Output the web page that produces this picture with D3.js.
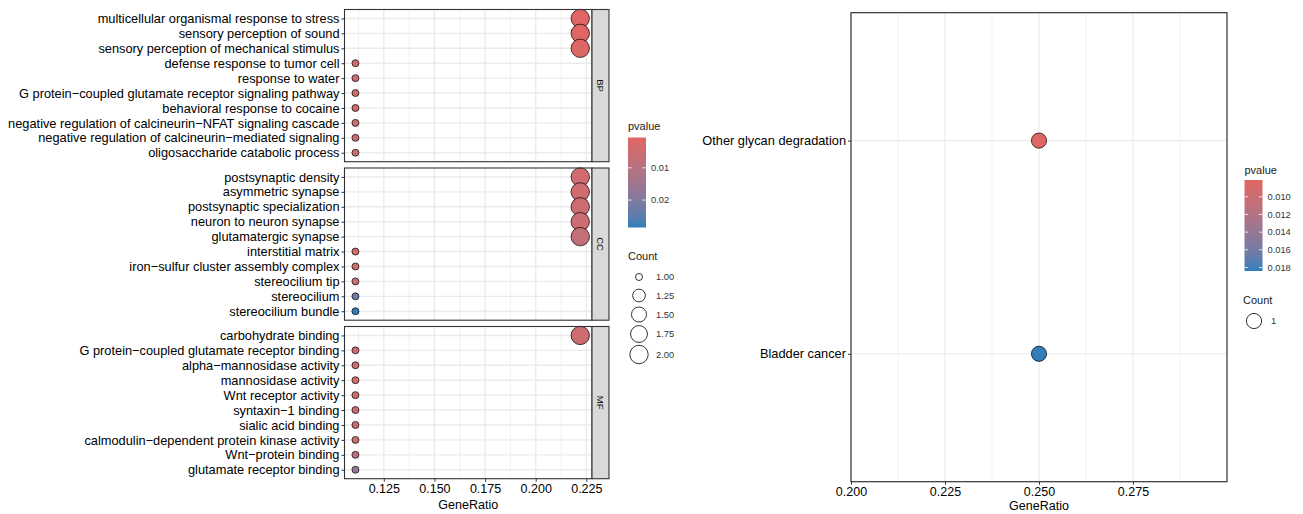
<!DOCTYPE html>
<html>
<head>
<meta charset="utf-8">
<script src="https://cdn.jsdelivr.net/npm/d3@7"></script>
<style>
  body { margin: 0; background: #fff; }
  svg { display: block; font-family: "Liberation Sans", Arial, sans-serif; }
</style>
</head>
<body>
<div id="viz"></div>
<script>
//Datos GO
const bpTerms = ['multicellular organismal response to stress', 'sensory perception of sound', 'sensory perception of mechanical stimulus',
    'defense response to tumor cell', 'response to water', 'G protein\u2212coupled glutamate receptor signaling pathway',
    'behavioral response to cocaine', 'negative regulation of calcineurin\u2212NFAT signaling cascade',
    'negative regulation of calcineurin\u2212mediated signaling', 'oligosaccharide catabolic process'];
const bpRatio = [0.222, 0.222, 0.222, 0.111, 0.111, 0.111, 0.111, 0.111, 0.111, 0.111];
const bpCount = [2, 2, 2, 1, 1, 1, 1, 1, 1, 1];
const bpPvalue = [0.0006, 0.0008, 0.0013, 0.0040, 0.0040, 0.0045, 0.0048, 0.0050, 0.0050, 0.0055];

const ccTerms = ['postsynaptic density', 'asymmetric synapse', 'postsynaptic specialization', 'neuron to neuron synapse',
    'glutamatergic synapse', 'interstitial matrix', 'iron\u2212sulfur cluster assembly complex', 'stereocilium tip',
    'stereocilium', 'stereocilium bundle'];
const ccRatio = [0.222, 0.222, 0.222, 0.222, 0.222, 0.111, 0.111, 0.111, 0.111, 0.111];
const ccCount = [2, 2, 2, 2, 2, 1, 1, 1, 1, 1];
const ccPvalue = [0.0045, 0.0048, 0.0052, 0.0055, 0.0075, 0.0040, 0.0042, 0.0055, 0.0225, 0.0285];

const mfTerms = ['carbohydrate binding', 'G protein\u2212coupled glutamate receptor binding', 'alpha\u2212mannosidase activity',
    'mannosidase activity', 'Wnt receptor activity', 'syntaxin\u22121 binding', 'sialic acid binding',
    'calmodulin\u2212dependent protein kinase activity', 'Wnt\u2212protein binding', 'glutamate receptor binding'];
const mfRatio = [0.222, 0.111, 0.111, 0.111, 0.111, 0.111, 0.111, 0.111, 0.111, 0.111];
const mfCount = [2, 1, 1, 1, 1, 1, 1, 1, 1, 1];
const mfPvalue = [0.0052, 0.0040, 0.0045, 0.0045, 0.0048, 0.0050, 0.0052, 0.0058, 0.0090, 0.0170];

const goTicks = [0.125, 0.150, 0.175, 0.200, 0.225];
const goPvalueTicks = [0.01, 0.02];
const goCountBreaks = [1.00, 1.25, 1.50, 1.75, 2.00];

//Datos KEGG
const keggTerms = ['Other glycan degradation', 'Bladder cancer'];
const keggRatio = [0.25, 0.25];
const keggCount = [1, 1];
const keggPvalue = [0.0081, 0.0184];
const keggTicks = [0.200, 0.225, 0.250, 0.275];
const keggPvalueTicks = [0.010, 0.012, 0.014, 0.016, 0.018];
const keggCountBreaks = [1];

//Colores fijos
const COLOR_LOW = '#e06663', COLOR_HIGH = '#327eba',
    COLOR_GRID = '#ebebeb', COLOR_BORDER = '#333333', COLOR_STRIP = '#d9d9d9';
const AXIS_FONT = '12.8px';

let svg = d3.select('#viz').append('svg')
    .attr('width', 1303).attr('height', 514);

let defs = svg.append('defs');

function makeGradient(id) {
    let g = defs.append('linearGradient').attr('id', id)
        .attr('x1', 0).attr('y1', 0).attr('x2', 0).attr('y2', 1);
    d3.range(0, 1.0001, 0.1).forEach(function(t) {
        g.append('stop').attr('offset', t)
            .attr('stop-color', d3.interpolateLab(COLOR_LOW, COLOR_HIGH)(t));
    });
}
makeGradient('gradGO');
makeGradient('gradKEGG');

function drawGrid(g, x, xTicks, y, terms, x0, x1, y0, y1, w) {
    // minor verticales
    let minor = [];
    let step = xTicks[1] - xTicks[0];
    for (let v = xTicks[0] - step / 2; v <= x.domain()[1]; v += step) {
        if (v >= x.domain()[0]) minor.push(v);
    }
    g.selectAll(null).data(minor).enter().append('line')
        .attr('x1', d => x(d)).attr('x2', d => x(d))
        .attr('y1', y0).attr('y2', y1)
        .attr('stroke', COLOR_GRID).attr('stroke-width', w * 0.55);
    g.selectAll(null).data(xTicks).enter().append('line')
        .attr('x1', d => x(d)).attr('x2', d => x(d))
        .attr('y1', y0).attr('y2', y1)
        .attr('stroke', COLOR_GRID).attr('stroke-width', w);
    g.selectAll(null).data(terms).enter().append('line')
        .attr('x1', x0).attr('x2', x1)
        .attr('y1', d => y(d)).attr('y2', d => y(d))
        .attr('stroke', COLOR_GRID).attr('stroke-width', w);
}

function yAxis(g, y, x0) {
    let ax = g.append('g').attr('transform', 'translate(' + x0 + ',0)')
        .call(d3.axisLeft(y).tickSize(3).tickPadding(2));
    ax.select('.domain').remove();
    ax.selectAll('line').attr('stroke', COLOR_BORDER);
    ax.selectAll('text').attr('fill', '#000').style('font-size', AXIS_FONT)
        .style('font-family', '"Liberation Sans", Arial, sans-serif');
}

function xAxis(g, x, ticks, y1, fmt) {
    let ax = g.append('g').attr('transform', 'translate(0,' + y1 + ')')
        .call(d3.axisBottom(x).tickValues(ticks).tickFormat(d3.format(fmt)).tickSize(3).tickPadding(2));
    ax.select('.domain').remove();
    ax.selectAll('line').attr('stroke', COLOR_BORDER);
    ax.selectAll('text').attr('fill', '#000').style('font-size', '12.5px')
        .style('font-family', '"Liberation Sans", Arial, sans-serif');
}

/////
// Panel GO
/////
const goPanels = [
    { name: 'BP', terms: bpTerms, ratio: bpRatio, count: bpCount, pvalue: bpPvalue },
    { name: 'CC', terms: ccTerms, ratio: ccRatio, count: ccCount, pvalue: ccPvalue },
    { name: 'MF', terms: mfTerms, ratio: mfRatio, count: mfCount, pvalue: mfPvalue }
];

let goLeft = 344.5, goRight = 592, stripW = 17, goTop = 9.5, panelH = 152.2, panelPitch = 158.5;
let allP = bpPvalue.concat(ccPvalue, mfPvalue);
let allC = bpCount.concat(ccCount, mfCount);
let goColor = d3.scaleLinear().domain(d3.extent(allP)).range([COLOR_LOW, COLOR_HIGH]).interpolate(d3.interpolateLab);
let goCountExt = d3.extent(allC);
let goSizeRaw = d3.scaleSqrt().domain([0, 1]).range([3.5, 9.2]);
let goSize = c => goSizeRaw((c - goCountExt[0]) / (goCountExt[1] - goCountExt[0]));

let goX = d3.scaleLinear().domain([0.1056, 0.2278]).range([goLeft, goRight]);

goPanels.forEach(function(p, i) {
    let y0 = goTop + i * panelPitch, y1 = y0 + panelH;
    let y = d3.scalePoint().domain(p.terms).range([y0, y1]).padding(0.6);
    let g = svg.append('g');
    g.append('rect').attr('x', goLeft).attr('y', y0).attr('width', goRight - goLeft).attr('height', panelH).attr('fill', '#fff');
    drawGrid(g, goX, goTicks, y, p.terms, goLeft, goRight, y0, y1, 1.4);
    let rows = p.terms.map((t, k) => ({ term: t, ratio: p.ratio[k], count: p.count[k], pvalue: p.pvalue[k] }));
    g.selectAll('circle.dot').data(rows).enter().append('circle')
        .attr('class', 'dot')
        .attr('cx', d => goX(d.ratio)).attr('cy', d => y(d.term))
        .attr('r', d => goSize(d.count))
        .attr('fill', d => goColor(d.pvalue))
        .attr('stroke', '#000').attr('stroke-width', 0.7);
    g.append('rect').attr('x', goLeft).attr('y', y0).attr('width', goRight - goLeft).attr('height', panelH)
        .attr('fill', 'none').attr('stroke', COLOR_BORDER).attr('stroke-width', 1.1);
    // strip
    g.append('rect').attr('x', goRight).attr('y', y0).attr('width', stripW).attr('height', panelH)
        .attr('fill', COLOR_STRIP).attr('stroke', COLOR_BORDER).attr('stroke-width', 1.1);
    g.append('text').attr('transform', 'translate(' + (goRight + stripW / 2) + ',' + (y0 + panelH / 2) + ') rotate(90)')
        .attr('text-anchor', 'middle').attr('dy', '0.35em')
        .style('font-size', '9.5px').attr('fill', '#1a1a1a').text(p.name);
    yAxis(g, y, goLeft);
    if (i == goPanels.length - 1) xAxis(g, goX, goTicks, y1, '.3f');
});

svg.append('text').attr('x', (goLeft + goRight) / 2).attr('y', 509)
    .attr('text-anchor', 'middle').style('font-size', '12.5px').attr('fill', '#000').text('GeneRatio');

/////
// Panel KEGG
/////
let kLeft = 851, kRight = 1227, kTop = 12.7, kBottom = 481.7;
let kX = d3.scaleLinear().domain([0.2, 0.3]).range([kLeft, kRight]);
let kY = d3.scalePoint().domain(keggTerms).range([kTop, kBottom]).padding(0.6);
let kColor = d3.scaleLinear().domain(d3.extent(keggPvalue)).range([COLOR_LOW, COLOR_HIGH]).interpolate(d3.interpolateLab);
let kg = svg.append('g');
kg.append('rect').attr('x', kLeft).attr('y', kTop).attr('width', kRight - kLeft).attr('height', kBottom - kTop).attr('fill', '#fff');
drawGrid(kg, kX, keggTicks, kY, keggTerms, kLeft, kRight, kTop, kBottom, 1.1);
let kRows = keggTerms.map((t, k) => ({ term: t, ratio: keggRatio[k], count: keggCount[k], pvalue: keggPvalue[k] }));
kg.selectAll('circle.dot').data(kRows).enter().append('circle')
    .attr('class', 'dot')
    .attr('cx', d => kX(d.ratio)).attr('cy', d => kY(d.term))
    .attr('r', 7.6)
    .attr('fill', d => kColor(d.pvalue))
    .attr('stroke', '#000').attr('stroke-width', 0.7);
kg.append('rect').attr('x', kLeft).attr('y', kTop).attr('width', kRight - kLeft).attr('height', kBottom - kTop)
    .attr('fill', 'none').attr('stroke', COLOR_BORDER).attr('stroke-width', 1.2);
yAxis(kg, kY, kLeft);
xAxis(kg, kX, keggTicks, kBottom, '.3f');
svg.append('text').attr('x', (kLeft + kRight) / 2).attr('y', 510)
    .attr('text-anchor', 'middle').style('font-size', '12.5px').attr('fill', '#000').text('GeneRatio');

/////
// Leyendas
/////
function colorLegend(x0, titleY, barTop, barBottom, colorScale, ticks, gradId, fmt) {
    let g = svg.append('g');
    g.append('text').attr('x', x0).attr('y', titleY).style('font-size', '11px').attr('fill', '#1a1a1a').text('pvalue');
    let barW = 18;
    g.append('rect').attr('x', x0).attr('y', barTop).attr('width', barW).attr('height', barBottom - barTop)
        .attr('fill', 'url(#' + gradId + ')');
    let ly = d3.scaleLinear().domain(colorScale.domain()).range([barTop, barBottom]);
    ticks.forEach(function(t) {
        let yy = ly(t);
        g.append('line').attr('x1', x0).attr('x2', x0 + 3.6).attr('y1', yy).attr('y2', yy).attr('stroke', '#fff').attr('stroke-width', 0.8);
        g.append('line').attr('x1', x0 + barW - 3.6).attr('x2', x0 + barW).attr('y1', yy).attr('y2', yy).attr('stroke', '#fff').attr('stroke-width', 0.8);
        g.append('text').attr('x', x0 + barW + 5).attr('y', yy).attr('dy', '0.35em')
            .style('font-size', '9.3px').attr('fill', '#333').text(d3.format(fmt)(t));
    });
}

function sizeLegend(x0, titleY, rowsY, breaks, sizeFn, labelFmt) {
    let g = svg.append('g');
    g.append('text').attr('x', x0).attr('y', titleY).style('font-size', '11px').attr('fill', '#1a1a1a').text('Count');
    breaks.forEach(function(b, k) {
        g.append('circle').attr('cx', x0 + 11).attr('cy', rowsY[k]).attr('r', sizeFn(b))
            .attr('fill', 'none').attr('stroke', '#000').attr('stroke-width', 0.8);
        g.append('text').attr('x', x0 + 28).attr('y', rowsY[k]).attr('dy', '0.35em')
            .style('font-size', '9.3px').attr('fill', '#333').text(labelFmt(b));
    });
}

colorLegend(628, 130, 137.5, 227.5, goColor, goPvalueTicks, 'gradGO', '.2f');
sizeLegend(628, 260, [277, 295.5, 314.5, 334, 354.5], goCountBreaks, goSize, d3.format('.2f'));

colorLegend(1244.5, 174, 180, 271, kColor, keggPvalueTicks, 'gradKEGG', '.3f');
sizeLegend(1243, 304, [321], keggCountBreaks, c => 7.6, d3.format('d'));
</script>
</body>
</html>
